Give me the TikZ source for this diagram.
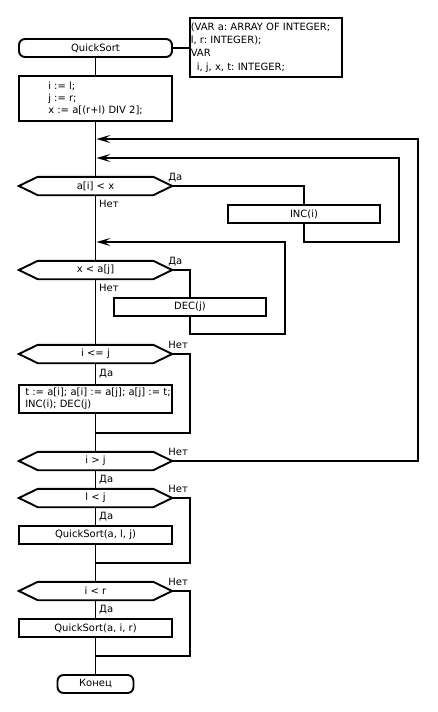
\documentclass[tikz,border=0pt]{standalone}
\usepackage{fontspec}
\setmainfont{DejaVu Sans}
\frenchspacing
\usetikzlibrary{arrows.meta,calc}
\begin{document}
\begin{tikzpicture}[x=1pt,y=-1pt,
  every node/.style={font=\fontsize{10}{12}\selectfont},
  ln/.style={line width=1.9pt},
  arr/.style={line width=1.9pt,-{Stealth[length=14pt,width=8pt,inset=6pt]}},
  box/.style={draw,line width=1.9pt,inner sep=0pt,minimum width=153pt,minimum height=18pt},
  term/.style={draw,line width=1.9pt,rounded corners=6pt,inner sep=0pt,minimum width=153pt,minimum height=18pt},
  cond/.style={inner sep=0pt,minimum width=153pt,minimum height=18pt},
  lbl/.style={anchor=base west,inner sep=0pt}]
\useasboundingbox (0,0) rectangle (437,712);

% nodes
\node[term] (start) at (95.5,48) {QuickSort};
\node[box,minimum width=152pt,minimum height=59pt] (decl) at (266,47.5) {};
\node[anchor=west,align=left,inner sep=0pt,font=\fontsize{10}{13.3}\selectfont] (decltxt)
  at ([xshift=1.5pt]decl.west)
  {(VAR a: ARRAY OF INTEGER;\\l, r: INTEGER);\\VAR\\\hspace*{6pt}i, j, x, t: INTEGER;};
\node[box,minimum height=45pt] (init) at (95.5,98.5) {};
\node[anchor=west,align=left,inner sep=0pt] (inittxt) at ([xshift=30pt]init.west)
  {i := l;\\j := r;\\x := a[(r+l) DIV 2];};
\node[cond] (d1) at (95.5,186) {a[i] < x};
\node[box,minimum width=152pt] (inc) at (304,214) {INC(i)};
\node[cond] (d2) at (95.5,270) {x < a[j]};
\node[box,minimum width=152pt] (dec) at (190,307) {DEC(j)};
\node[cond] (d3) at (95.5,354) {i <= j};
\node[box,minimum height=28pt] (swap) at (95.5,399) {};
\node[anchor=west,align=left,inner sep=0pt] (swaptxt) at ([xshift=7pt]swap.west)
  {t := a[i]; a[i] := a[j]; a[j] := t;\\INC(i); DEC(j)};
\node[cond] (d4) at (95.5,461) {i > j};
\node[cond] (d5) at (95.5,498) {l < j};
\node[box] (qs1) at (95.5,535) {QuickSort(a, l, j)};
\node[cond] (d6) at (95.5,591) {i < r};
\node[box] (qs2) at (95.5,628) {QuickSort(a, i, r)};
\node[term,minimum width=76pt] (end) at (95.5,684) {Конец};

% hexagons
\foreach \n in {d1,d2,d3,d4,d5,d6}
  \draw[ln] (\n.west) -- ([xshift=19pt]\n.north west) -- ([xshift=-19pt]\n.north east)
    -- (\n.east) -- ([xshift=-19pt]\n.south east) -- ([xshift=19pt]\n.south west) -- cycle;

% trunk
\draw[ln] (start) -- (init);
\draw[ln] (start.east) -- (start.east -| decl.west);
\draw[ln] (init) -- (d1);
\draw[ln] (d1) -- (d2);
\draw[ln] (d2) -- (d3);
\draw[ln] (d3) -- (swap);
\draw[ln] (swap) -- (d4);
\draw[ln] (d4) -- (d5);
\draw[ln] (d5) -- (qs1);
\draw[ln] (qs1) -- (d6);
\draw[ln] (d6) -- (qs2);
\draw[ln] (qs2) -- (end);

% join points on trunk
\coordinate (j1) at (96.4,139);
\coordinate (j2) at (96.4,158);
\coordinate (j3) at (96.4,242);
\coordinate (j4) at (95.5,433);
\coordinate (j5) at (95.5,563);
\coordinate (j6) at (95.5,656);
\coordinate (c1) at (418,139);
\coordinate (c2) at (399,242);
\coordinate (c3) at (285,334);
\coordinate (c4) at (190,433);
\coordinate (c5) at (190,563);
\coordinate (c6) at (190,656);

% branches
\draw[ln] (d1.east) -| (inc.north);
\draw[arr] (inc.south) |- (c2) |- (j2);
\draw[ln] (d2.east) -| (dec.north);
\draw[arr] (dec.south) |- (c3) |- (j3);
\draw[ln] (d3.east) -| (c4) -- (j4);
\draw[arr] (d4.east) -| (c1) -- (j1);
\draw[ln] (d5.east) -| (c5) -- (j5);
\draw[ln] (d6.east) -| (c6) -- (j6);

% labels
\node[lbl] (l1) at ([xshift=-4pt,yshift=6pt]d1.east) {Да};
\node[lbl] (l2) at ([xshift=3.5pt,yshift=-12pt]d1.south) {Нет};
\node[lbl] (l3) at ([xshift=-4pt,yshift=6pt]d2.east) {Да};
\node[lbl] (l4) at ([xshift=3.5pt,yshift=-12pt]d2.south) {Нет};
\node[lbl] (l5) at ([xshift=-4pt,yshift=6pt]d3.east) {Нет};
\node[lbl] (l6) at ([xshift=3.5pt,yshift=-13pt]d3.south) {Да};
\node[lbl] (l7) at ([xshift=-4pt,yshift=6pt]d4.east) {Нет};
\node[lbl] (l8) at ([xshift=3.5pt,yshift=-12pt]d4.south) {Да};
\node[lbl] (l9) at ([xshift=-4pt,yshift=6pt]d5.east) {Нет};
\node[lbl] (l10) at ([xshift=3.5pt,yshift=-12pt]d5.south) {Да};
\node[lbl] (l11) at ([xshift=-4pt,yshift=6pt]d6.east) {Нет};
\node[lbl] (l12) at ([xshift=3.5pt,yshift=-12pt]d6.south) {Да};
\end{tikzpicture}
\end{document}
